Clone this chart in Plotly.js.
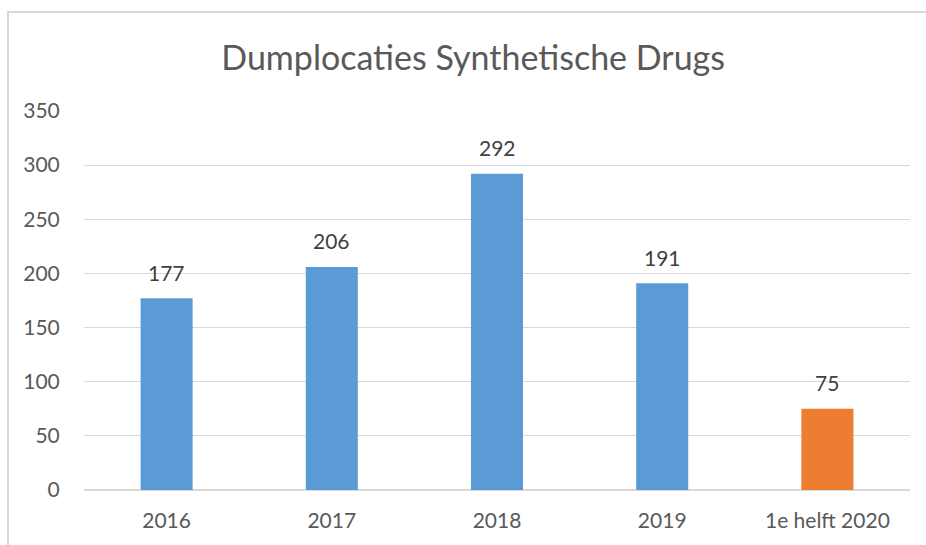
<!DOCTYPE html>
<html>
<head>
<meta charset="utf-8">
<script src="https://cdn.plot.ly/plotly-3.0.1.min.js"></script>
<style>
html,body{margin:0;padding:0;background:#fff;}
#wrap{position:relative;width:926px;height:545px;overflow:hidden;}
#chart{position:absolute;left:0;top:0;width:926px;height:545px;}
#frame{position:absolute;left:7px;top:11px;width:940px;height:560px;border:2px solid #d9d9d9;pointer-events:none;box-sizing:border-box;}
</style>
</head>
<body>
<div id="wrap">
<div id="chart"></div>
<div id="frame"></div>
</div>
<script>
const categories = ["2016", "2017", "2018", "2019", "1e helft 2020"];
const values = [177, 206, 292, 191, 75];
const barColors = ["#5b9bd5", "#5b9bd5", "#5b9bd5", "#5b9bd5", "#ed7d31"];
const yTicks = [0, 50, 100, 150, 200, 250, 300, 350];

const font = "Lato, 'Open Sans', sans-serif";

const trace = {
  type: "bar",
  x: categories,
  y: values,
  marker: {color: barColors},
  hoverinfo: "none"
};

const annotations = categories.map((c, i) => ({
  x: i, y: values[i], xref: "x", yref: "y",
  text: String(values[i]),
  showarrow: false,
  yanchor: "middle",
  yshift: 26,
  font: {family: font, size: 21, color: "#404040"}
}));

const layout = {
  width: 926, height: 545,
  margin: {l: 84, r: 16, t: 111, b: 55, pad: 0},
  paper_bgcolor: "#ffffff",
  plot_bgcolor: "#ffffff",
  showlegend: false,
  bargap: 0.685,
  title: {
    text: "Dumplocaties Synthetische Drugs",
    x: 0.511, xanchor: "center",
    y: 0.893, yanchor: "middle",
    font: {family: font, size: 34, color: "#595959"}
  },
  xaxis: {
    type: "category",
    range: [-0.5, 4.5],
    autorange: false,
    showgrid: false,
    showline: false,
    zeroline: false,
    ticks: "outside", ticklen: 12, tickcolor: "rgba(0,0,0,0)",
    tickfont: {family: font, size: 21, color: "#595959"}
  },
  yaxis: {
    range: [0, 350],
    autorange: false,
    tickvals: yTicks,
    ticktext: yTicks.map(String),
    showgrid: true, gridcolor: "#d9d9d9", gridwidth: 1,
    zeroline: true, zerolinecolor: "#d9d9d9", zerolinewidth: 2,
    showline: false,
    ticks: "outside", ticklen: 19, tickcolor: "rgba(0,0,0,0)",
    tickfont: {family: font, size: 21, color: "#595959"}
  },
  annotations: annotations
};

Plotly.newPlot("chart", [trace], layout, {staticPlot: true, displayModeBar: false});
</script>
</body>
</html>
